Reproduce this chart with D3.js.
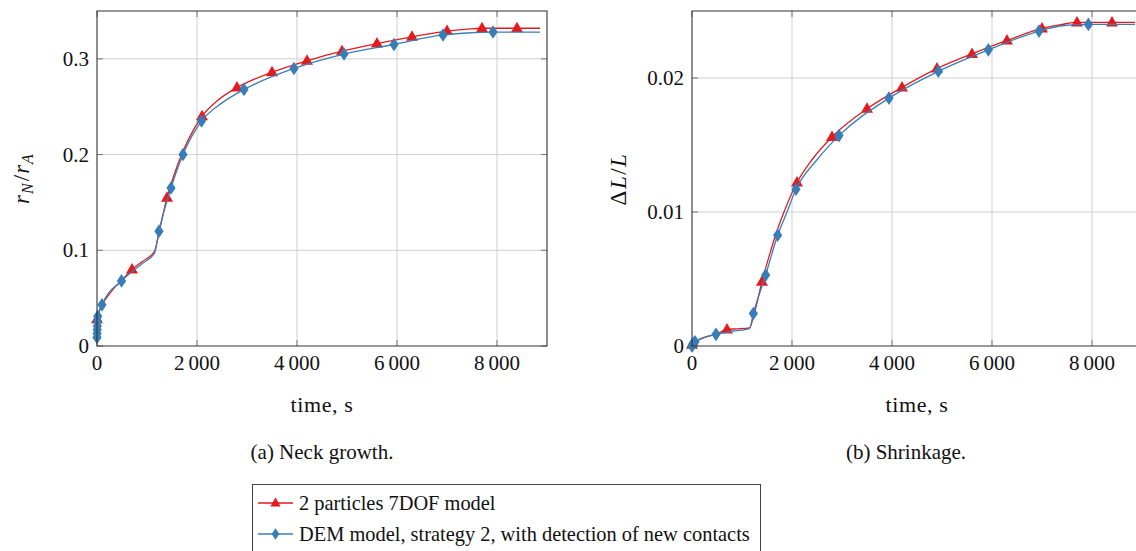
<!DOCTYPE html>
<html>
<head>
<meta charset="utf-8">
<script src="https://cdn.jsdelivr.net/npm/d3@7"></script>
<style>
  body { margin: 0; background: #fff; }
  svg text { font-family: "Liberation Serif", "DejaVu Serif", serif; fill: #111; }
</style>
</head>
<body>
<div id="chart"></div>
<script>
// Neck growth (left panel) -- 2 particles 7DOF model
const neckRedTime  = [0, 50, 100, 200, 350, 500, 700, 900, 1150, 1250, 1400, 1550, 1700, 1850, 2100, 2400, 2800, 3500, 4200, 4900, 5600, 6300, 7000, 7400, 7700, 8400, 8860];
const neckRedValue = [0.028, 0.037, 0.043, 0.051, 0.061, 0.069, 0.080, 0.088, 0.099, 0.121, 0.155, 0.180, 0.201, 0.218, 0.240, 0.256, 0.270, 0.286, 0.298, 0.308, 0.316, 0.323, 0.329, 0.331, 0.332, 0.332, 0.332];
const neckRedMark  = [1, 0, 0, 0, 0, 0, 1, 0, 0, 0, 1, 0, 0, 0, 1, 0, 1, 1, 1, 1, 1, 1, 1, 0, 1, 1, 0];

// Neck growth -- DEM model, strategy 2
const neckBlueTime  = [0, 2, 4, 6, 10, 15, 100, 490, 900, 1150, 1240, 1480, 1720, 2090, 2500, 2940, 3940, 4940, 5940, 6920, 7400, 7920, 8860];
const neckBlueValue = [0.009, 0.013, 0.017, 0.021, 0.026, 0.031, 0.043, 0.068, 0.086, 0.097, 0.120, 0.165, 0.200, 0.235, 0.254, 0.268, 0.290, 0.305, 0.315, 0.325, 0.327, 0.328, 0.328];
const neckBlueMark  = [1, 1, 1, 1, 1, 1, 1, 1, 0, 0, 1, 1, 1, 1, 0, 1, 1, 1, 1, 1, 0, 1, 0];

// Shrinkage (right panel) -- 2 particles 7DOF model
const shrinkRedTime  = [0, 50, 100, 300, 500, 700, 900, 1150, 1250, 1400, 1550, 1700, 1850, 2100, 2400, 2800, 3500, 4200, 4900, 5600, 6300, 7000, 7400, 7700, 8400, 8860];
const shrinkRedValue = [0.0001, 0.0003, 0.0004, 0.0007, 0.0009, 0.00124, 0.00128, 0.00135, 0.0025, 0.0048, 0.0068, 0.0086, 0.0101, 0.0122, 0.0139, 0.0156, 0.0177, 0.0193, 0.0207, 0.0218, 0.0228, 0.0237, 0.0240, 0.02415, 0.02415, 0.02415];
const shrinkRedMark  = [1, 0, 0, 0, 0, 1, 0, 0, 0, 1, 0, 0, 0, 1, 0, 1, 1, 1, 1, 1, 1, 1, 0, 1, 1, 0];

// Shrinkage -- DEM model, strategy 2
const shrinkBlueTime  = [0, 5, 10, 20, 30, 60, 480, 800, 1150, 1227, 1473, 1713, 1900, 2080, 2500, 2940, 3940, 4927, 5927, 6940, 7400, 7927, 8860];
const shrinkBlueValue = [0.0000, 0.00005, 0.0001, 0.00015, 0.0002, 0.00032, 0.00087, 0.0011, 0.0013, 0.00243, 0.00529, 0.00826, 0.0100, 0.0117, 0.0139, 0.0157, 0.0185, 0.0205, 0.0221, 0.0235, 0.0239, 0.0240, 0.0240];
const shrinkBlueMark  = [1, 1, 1, 1, 1, 1, 1, 0, 0, 1, 1, 1, 0, 1, 0, 1, 1, 1, 1, 1, 0, 1, 0];

// Ticks and labels
const timeTicks = [0, 2000, 4000, 6000, 8000];
const neckTicks = [0, 0.1, 0.2, 0.3];
const shrinkTicks = [0, 0.01, 0.02];
const legendLabels = ['2 particles 7DOF model', 'DEM model, strategy 2, with detection of new contacts'];

const RED = '#e41a1c';
const BLUE = '#377eb8';

const svg = d3.select('#chart')
    .append('svg')
    .attr('width', 1136)
    .attr('height', 551);

const zip = (t, v, m) => t.map((d, i) => ({ t: d, v: v[i], mark: m[i] }));

const trianglePath = 'M0,-6.5L6,4L-6,4Z';
const diamondPath = 'M0,-6.8L4.6,0L0,6.8L-4.6,0Z';

function drawPanel(opts) {
    const x = d3.scaleLinear().domain([0, 9000]).range([opts.left, opts.left + 450]);
    const y = d3.scaleLinear().domain(opts.yDomain).range([346, 11]);
    const g = svg.append('g');
    const x0 = x.range()[0], x1 = x.range()[1];
    const y0 = y.range()[0], y1 = y.range()[1];

    // grid
    g.selectAll('.vgrid').data(timeTicks.filter(d => d > 0)).enter()
        .append('line')
        .attr('x1', d => x(d)).attr('x2', d => x(d))
        .attr('y1', y0).attr('y2', y1)
        .attr('stroke', '#cfcfcf').attr('stroke-width', 1);
    g.selectAll('.hgrid').data(opts.yTicks.filter(d => d > 0)).enter()
        .append('line')
        .attr('x1', x0).attr('x2', x1)
        .attr('y1', d => y(d)).attr('y2', d => y(d))
        .attr('stroke', '#cfcfcf').attr('stroke-width', 1);

    // inward tick marks on all sides
    const tickLen = 6;
    timeTicks.forEach(d => {
        g.append('line').attr('x1', x(d)).attr('x2', x(d)).attr('y1', y0).attr('y2', y0 - tickLen)
            .attr('stroke', '#777').attr('stroke-width', 1);
        g.append('line').attr('x1', x(d)).attr('x2', x(d)).attr('y1', y1).attr('y2', y1 + tickLen)
            .attr('stroke', '#777').attr('stroke-width', 1);
    });
    opts.yTicks.forEach(d => {
        g.append('line').attr('x1', x0).attr('x2', x0 + tickLen).attr('y1', y(d)).attr('y2', y(d))
            .attr('stroke', '#777').attr('stroke-width', 1);
        g.append('line').attr('x1', x1).attr('x2', x1 - tickLen).attr('y1', y(d)).attr('y2', y(d))
            .attr('stroke', '#777').attr('stroke-width', 1);
    });

    // series
    const line = d3.line().curve(d3.curveMonotoneX).x(d => x(d.t)).y(d => y(d.v));
    opts.series.forEach(s => {
        g.append('path')
            .datum(s.data)
            .attr('fill', 'none')
            .attr('stroke', s.color)
            .attr('stroke-width', 1.3)
            .attr('d', line);
        g.selectAll(null).data(s.data.filter(d => d.mark)).enter()
            .append('path')
            .attr('d', s.shape)
            .attr('transform', d => `translate(${x(d.t)},${y(d.v)})`)
            .attr('fill', s.color);
    });

    // frame
    g.append('path')
        .attr('d', `M${x0},${y1}H${x1}V${y0}H${x0}Z`)
        .attr('fill', 'none')
        .attr('stroke', '#333')
        .attr('stroke-width', 1.1);

    // tick labels
    const fmtTime = d => d === 0 ? '0' : d3.format(',')(d).replace(',', '\u2009');
    g.selectAll('.xlab').data(timeTicks).enter()
        .append('text')
        .attr('x', d => x(d))
        .attr('y', 370)
        .attr('text-anchor', 'middle')
        .style('font-size', '21px')
        .text(fmtTime);
    g.selectAll('.ylab').data(opts.yTicks).enter()
        .append('text')
        .attr('x', x0 - 8)
        .attr('y', d => y(d) + 7)
        .attr('text-anchor', 'end')
        .style('font-size', '21px')
        .text(d => d === 0 ? '0' : String(d));

    // axis titles
    g.append('text')
        .attr('x', opts.left + 225)
        .attr('y', 412)
        .attr('text-anchor', 'middle')
        .style('font-size', '22px')
        .style('letter-spacing', '0.6px')
        .text('time, s');

    const yt = g.append('text')
        .attr('transform', `translate(${opts.yLabelX},179) rotate(-90)`)
        .attr('text-anchor', 'middle')
        .style('font-size', '23px');
    opts.yLabel(yt);

    // caption
    g.append('text')
        .attr('x', opts.captionX)
        .attr('y', 459)
        .attr('text-anchor', 'middle')
        .style('font-size', '21px')
        .text(opts.caption);
}

drawPanel({
    left: 97,
    yDomain: [0, 0.35],
    yTicks: neckTicks,
    yLabelX: 29,
    captionX: 322,
    caption: '(a) Neck growth.',
    series: [
        { data: zip(neckRedTime, neckRedValue, neckRedMark), color: RED, shape: trianglePath },
        { data: zip(neckBlueTime, neckBlueValue, neckBlueMark), color: BLUE, shape: diamondPath }
    ],
    yLabel: t => {
        t.append('tspan').style('font-style', 'italic').text('r');
        t.append('tspan').style('font-style', 'italic').style('font-size', '16px').attr('dx', 1).attr('dy', 4).text('N');
        t.append('tspan').attr('dx', 2).attr('dy', -4).text('/');
        t.append('tspan').style('font-style', 'italic').attr('dx', 1).text('r');
        t.append('tspan').style('font-style', 'italic').style('font-size', '16px').attr('dx', 1).attr('dy', 4).text('A');
    }
});

drawPanel({
    left: 692,
    yDomain: [0, 0.025],
    yTicks: shrinkTicks,
    yLabelX: 626,
    captionX: 906,
    caption: '(b) Shrinkage.',
    series: [
        { data: zip(shrinkRedTime, shrinkRedValue, shrinkRedMark), color: RED, shape: trianglePath },
        { data: zip(shrinkBlueTime, shrinkBlueValue, shrinkBlueMark), color: BLUE, shape: diamondPath }
    ],
    yLabel: t => {
        t.style('letter-spacing', '1.5px');
        t.append('tspan').text('\u0394');
        t.append('tspan').style('font-style', 'italic').text('L');
        t.append('tspan').text('/');
        t.append('tspan').style('font-style', 'italic').text('L');
    }
});

// legend
const legend = svg.append('g');
legend.append('rect')
    .attr('x', 252.5).attr('y', 484.5)
    .attr('width', 508).attr('height', 80)
    .attr('fill', '#fff')
    .attr('stroke', '#444')
    .attr('stroke-width', 1);
const legendItems = [
    { label: legendLabels[0], color: RED, shape: trianglePath },
    { label: legendLabels[1], color: BLUE, shape: diamondPath }
];
legendItems.forEach((d, i) => {
    const cy = 503 + i * 31;
    legend.append('line')
        .attr('x1', 258).attr('x2', 293).attr('y1', cy).attr('y2', cy)
        .attr('stroke', d.color).attr('stroke-width', 1.3);
    legend.append('path')
        .attr('d', d.shape)
        .attr('transform', `translate(275.5,${cy}) scale(0.85)`)
        .attr('fill', d.color);
    legend.append('text')
        .attr('x', 299)
        .attr('y', cy + 7)
        .style('font-size', '20.4px')
        .text(d.label);
});
</script>
</body>
</html>
